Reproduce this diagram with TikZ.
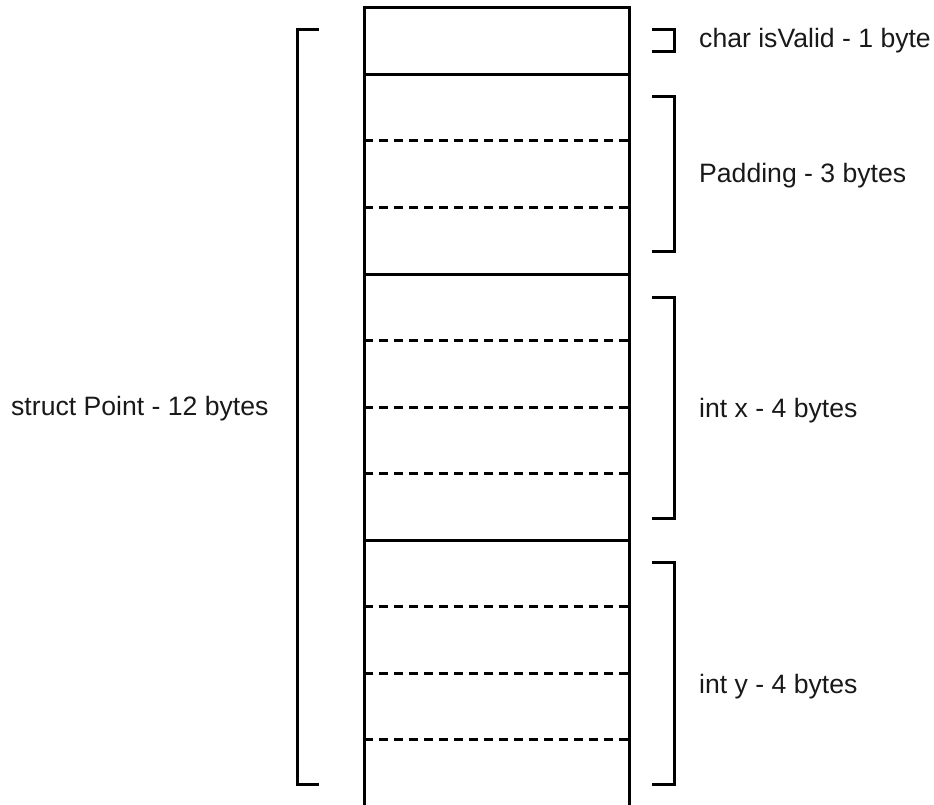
\documentclass[tikz,border=0pt]{standalone}
\usepackage{fontspec}
\setmainfont{Liberation Sans}
\begin{document}
\begin{tikzpicture}[x=1pt,y=-1pt,
  wall/.style={line width=3pt,line cap=butt},
  solidrule/.style={line width=3pt},
  dashrule/.style={line width=3pt,dash pattern=on 9pt off 6pt},
  brace/.style={line width=3pt,line join=miter},
  lbl/.style={anchor=base west,inner sep=0pt,font=\fontsize{26.6}{30}\selectfont,text=black!90}]
\useasboundingbox (0,0) rectangle (934,805);

% memory block: outer walls, open at the bottom
\coordinate (tl) at (364,8);
\coordinate (tr) at (629,8);
\coordinate (bl) at (364,805);
\coordinate (br) at (629,805);
\draw[wall] (bl) -- (tl) -- (tr) -- (br);

% byte boundaries: solid between fields, dashed inside a field
\foreach \k in {1,4,8}
  \draw[solidrule] (364,{8+66.5*\k}) -- (629,{8+66.5*\k});
\foreach \k in {2,3,5,6,7,9,10,11}
  \draw[dashrule] (364,{8+66.5*\k}) -- (629,{8+66.5*\k});

% brackets
\draw[brace] (319,30) -- (297,30) -- (297,784) -- (319,784);
\draw[brace] (652,30) -- (674,30) -- (674,52) -- (652,52);
\draw[brace] (652,97) -- (674,97) -- (674,251) -- (652,251);
\draw[brace] (652,297) -- (674,297) -- (674,518) -- (652,518);
\draw[brace] (652,562) -- (674,562) -- (674,784) -- (652,784);

% labels
\node[lbl] (lstruct) at (11,415) {struct Point - 12 bytes};
\node[lbl] (lchar) at (699,48) {char isValid - 1 byte};
\node[lbl] (lpad) at (699,183) {Padding - 3 bytes};
\node[lbl] (lx) at (699,417) {int x - 4 bytes};
\node[lbl] (ly) at (699,693) {int y - 4 bytes};
\end{tikzpicture}
\end{document}
